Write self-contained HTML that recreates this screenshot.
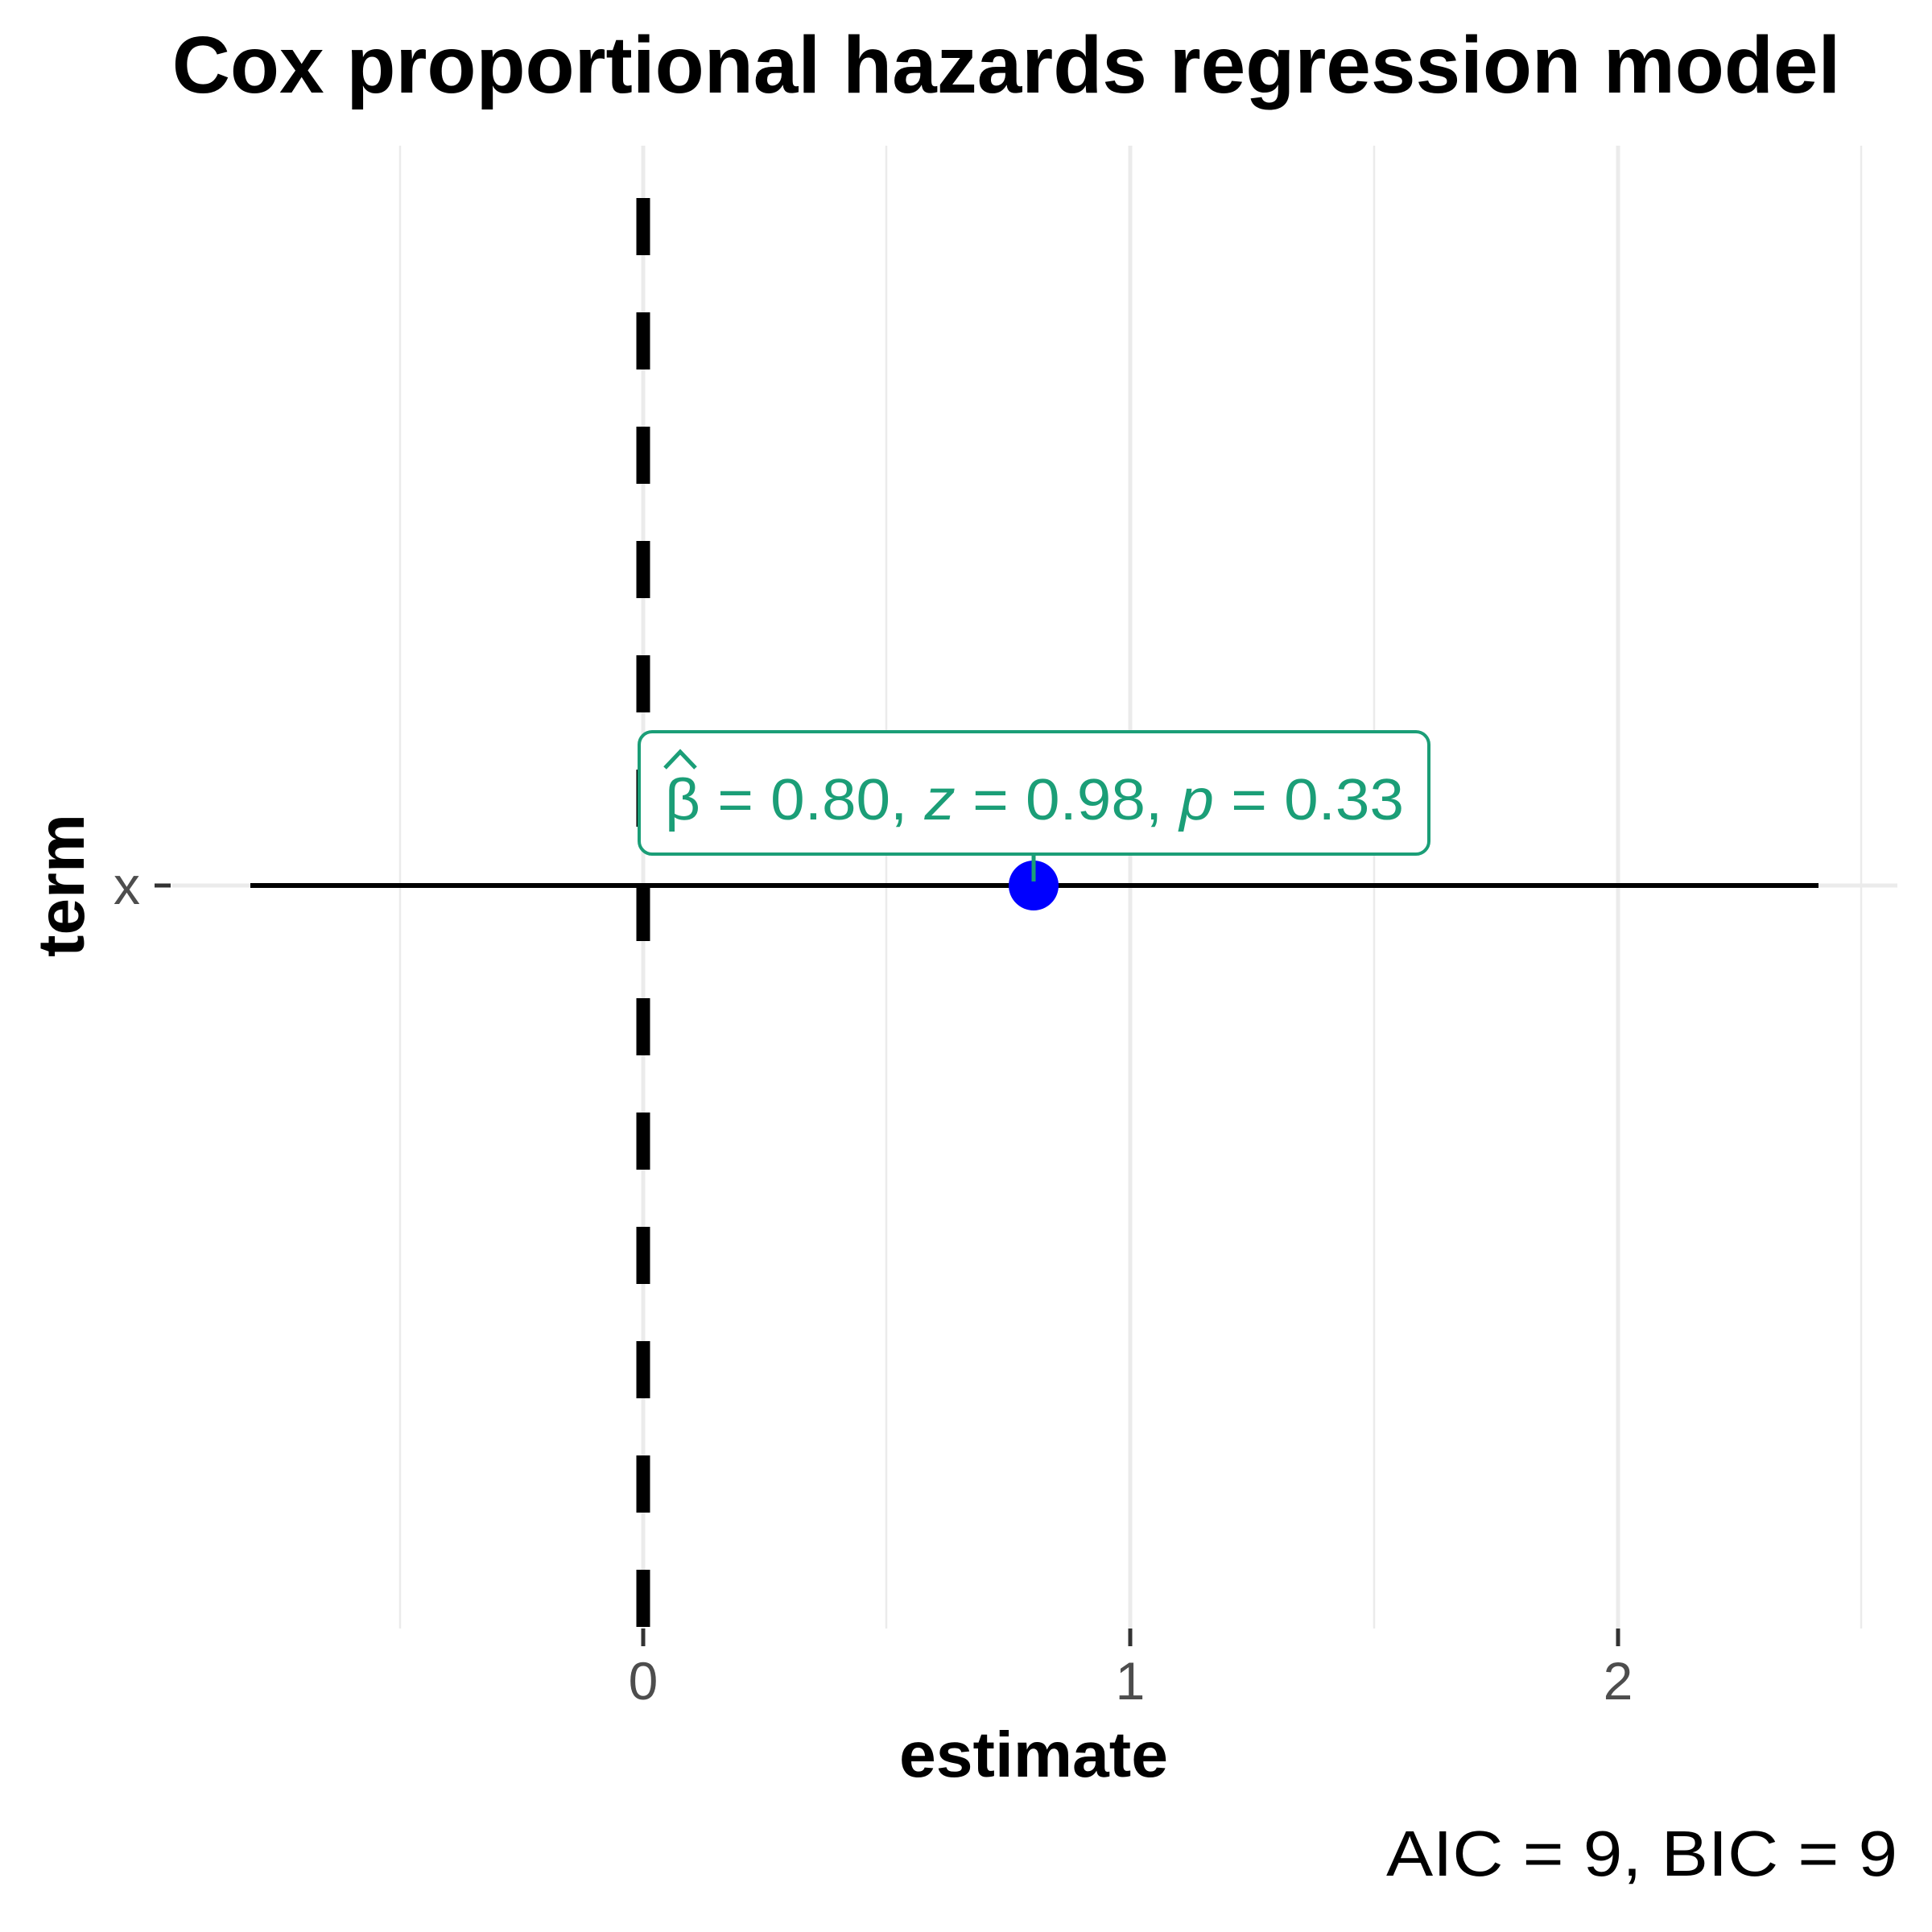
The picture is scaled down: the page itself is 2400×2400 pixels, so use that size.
<!DOCTYPE html>
<html><head><meta charset="utf-8"><style>
html,body{margin:0;padding:0;background:#fff;}
svg{display:block;}
</style></head><body>
<svg width="2400" height="2400" viewBox="0 0 2400 2400" xmlns="http://www.w3.org/2000/svg" font-family="'Liberation Sans', Arial, sans-serif">
<rect width="2400" height="2400" fill="#fff"/>
<g stroke="#EBEBEB" stroke-width="2.5">
<line x1="497" y1="181" x2="497" y2="2023"/>
<line x1="1101" y1="181" x2="1101" y2="2023"/>
<line x1="1707" y1="181" x2="1707" y2="2023"/>
<line x1="2312" y1="181" x2="2312" y2="2023"/>
</g>
<g stroke="#EBEBEB" stroke-width="5">
<line x1="799" y1="181" x2="799" y2="2023"/>
<line x1="1404" y1="181" x2="1404" y2="2023"/>
<line x1="2010" y1="181" x2="2010" y2="2023"/>
<line x1="214" y1="1100" x2="2357" y2="1100"/>
</g>
<g stroke="#333" stroke-width="5">
<line x1="799" y1="2023" x2="799" y2="2045"/>
<line x1="1404" y1="2023" x2="1404" y2="2045"/>
<line x1="2010" y1="2023" x2="2010" y2="2045"/>
<line x1="192" y1="1100" x2="212" y2="1100"/>
</g>
<line x1="799" y1="246" x2="799" y2="2023" stroke="#000" stroke-width="17" stroke-dasharray="71 71"/>
<line x1="311" y1="1100" x2="2259" y2="1100" stroke="#000" stroke-width="6"/>
<circle cx="1284" cy="1100" r="31" fill="#0000FF"/>
<line x1="1284" y1="1061" x2="1284" y2="1095" stroke="#1B9E77" stroke-width="5"/>
<rect x="794" y="909" width="981" height="152" rx="16" fill="#fff" stroke="#1B9E77" stroke-width="4"/>
<text x="826" y="1018" font-size="72" fill="#1B9E77" textLength="918" lengthAdjust="spacingAndGlyphs">β = 0.80, <tspan font-style="italic">z</tspan> = 0.98, <tspan font-style="italic">p</tspan> = 0.33</text>
<path d="M826 954 L845 934 L864 954" fill="none" stroke="#1B9E77" stroke-width="5"/>
<text x="1250" y="115" font-size="100" font-weight="bold" text-anchor="middle" fill="#000">Cox proportional hazards regression model</text>
<g font-size="66" fill="#4D4D4D" text-anchor="middle">
<text x="799" y="2111">0</text>
<text x="1404" y="2111">1</text>
<text x="2010" y="2111">2</text>
<text x="174" y="1123" text-anchor="end">x</text>
</g>
<text x="1284" y="2207" font-size="80" font-weight="bold" text-anchor="middle" textLength="334" lengthAdjust="spacingAndGlyphs">estimate</text>
<text transform="translate(104,1100) rotate(-90)" font-size="82" font-weight="bold" text-anchor="middle">term</text>
<text x="2357" y="2330" font-size="80" text-anchor="end" textLength="635" lengthAdjust="spacingAndGlyphs">AIC = 9, BIC = 9</text>
</svg>
</body></html>
